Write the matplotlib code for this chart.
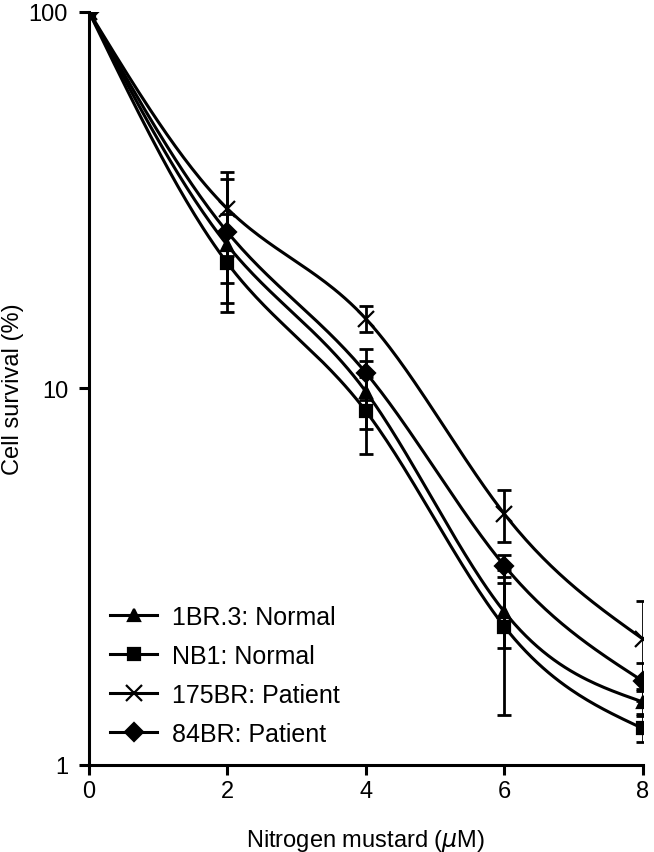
import matplotlib.pyplot as plt
import numpy as np
import matplotlib

matplotlib.rcParams['font.family'] = ['Liberation Sans', 'DejaVu Sans']

# 药物浓度 (uM)
dose = [0, 2, 4, 6, 8]

# 存活率 (%)
br13 = [100, 24.0, 9.8, 2.55, 1.47]
nb1 = [100, 21.5, 8.7, 2.33, 1.25]
br175 = [100, 30.0, 15.3, 4.64, 2.16]
br84 = [100, 26.0, 11.0, 3.38, 1.67]

# 误差
br13_err = [0, 5.0, 2.0, 0.5, 0.1]
nb1_err = [0, 4.6, 2.0, 0.97, 0.1]
br175_err = [0, 7.6, 1.2, 0.73, 0.57]
br84_err = [0, 10.0, 1.7, 0.22, 0.19]

labels = ['1BR.3: Normal', 'NB1: Normal', '175BR: Patient', '84BR: Patient']
markers = ['^', 's', 'x', 'D']


def natural_spline(x, y, n=200):
    # 自然三次样条 (在 log 空间)
    x = np.asarray(x, float)
    y = np.asarray(y, float)
    k = len(x)
    h = np.diff(x)
    A = np.zeros((k, k))
    b = np.zeros(k)
    A[0, 0] = A[-1, -1] = 1
    for i in range(1, k - 1):
        A[i, i - 1] = h[i - 1]
        A[i, i] = 2 * (h[i - 1] + h[i])
        A[i, i + 1] = h[i]
        b[i] = 6 * ((y[i + 1] - y[i]) / h[i] - (y[i] - y[i - 1]) / h[i - 1])
    M = np.linalg.solve(A, b)
    xs = np.linspace(x[0], x[-1], n)
    idx = np.clip(np.searchsorted(x, xs) - 1, 0, k - 2)
    x0, x1 = x[idx], x[idx + 1]
    hh = x1 - x0
    t0 = x1 - xs
    t1 = xs - x0
    ys = (M[idx] * t0 ** 3 + M[idx + 1] * t1 ** 3) / (6 * hh) \
        + (y[idx] / hh - M[idx] * hh / 6) * t0 + (y[idx + 1] / hh - M[idx + 1] * hh / 6) * t1
    return xs, ys


fig = plt.figure(figsize=(6.54, 8.53), dpi=100)
ax = fig.add_axes([0.136, 0.102, 0.847, 0.883])

series = [(br13, br13_err), (nb1, nb1_err), (br175, br175_err), (br84, br84_err)]
for (vals, err), lab, m in zip(series, labels, markers):
    xs, ys = natural_spline(dose, np.log10(vals))
    ax.plot(xs, 10 ** ys, color='black', linewidth=2.2)
    ax.errorbar(dose, vals, yerr=err, fmt='none', ecolor='black', elinewidth=2, capsize=5, capthick=2)
    ms = 11 if m == 'x' else 9
    ax.plot(dose, vals, linestyle='none', marker=m, color='black', markersize=ms, markeredgewidth=1.6)
    ax.plot([], [], color='black', linewidth=2.2, marker=m, markersize=ms, markeredgewidth=1.6, label=lab)

ax.set_yscale('log')
ax.set_ylim(1, 100)
ax.set_xlim(0, 8)
ax.set_yticks([1, 10, 100])
ax.set_yticklabels(['1', '10', '100'])
ax.minorticks_off()
ax.set_xticks([0, 2, 4, 6, 8])

for s in ['top', 'right']:
    ax.spines[s].set_visible(False)
for s in ['left', 'bottom']:
    ax.spines[s].set_linewidth(2.2)
ax.tick_params(axis='both', direction='out', length=7, width=2.2, labelsize=17)
ax.tick_params(axis='y', pad=8)

ax.set_xlabel('Nitrogen mustard ($\\mu$M)', fontsize=17, labelpad=18)
ax.set_ylabel('Cell survival (%)', fontsize=17)
ax.yaxis.set_label_coords(-0.117, 0.5)

ax.legend(loc='lower left', bbox_to_anchor=(0.038, 0.025), frameon=False, fontsize=18,
          handlelength=1.9, handletextpad=0.6, labelspacing=0.6, borderaxespad=0, borderpad=0)

plt.savefig('out.png')
